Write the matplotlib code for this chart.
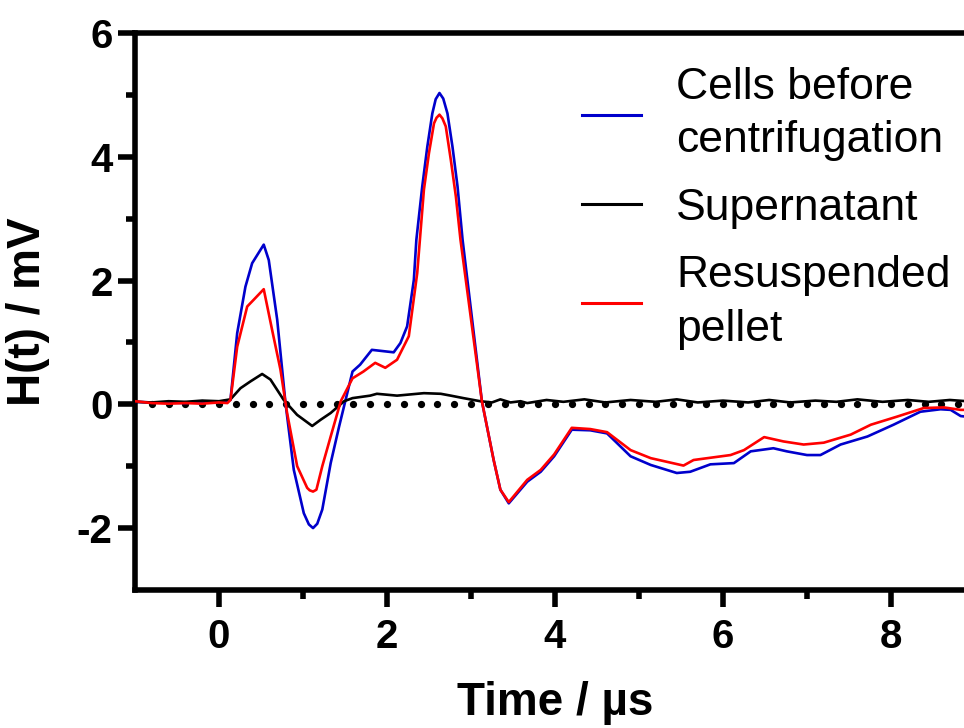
import numpy as np
import matplotlib
matplotlib.use("Agg")
import matplotlib.pyplot as plt

plt.rcParams['font.family'] = ['Liberation Sans', 'DejaVu Sans']
plt.rcParams['axes.unicode_minus'] = False

# Time axis (µs) and signal H(t) (mV) for each sample
t_cells = [-1.0, -0.8, -0.6, -0.4, -0.2, -0.05, 0.06, 0.137, 0.217, 0.315, 0.395, 0.533,
           0.593, 0.693, 0.792, 0.891, 1.01, 1.07, 1.12, 1.17, 1.23, 1.33, 1.43, 1.59, 1.68, 1.82,
           2.08, 2.16, 2.24, 2.32, 2.35, 2.42, 2.48, 2.54, 2.58, 2.625, 2.67, 2.72, 2.78, 2.84, 2.90,
           3.13, 3.27, 3.35, 3.45, 3.67, 3.83, 3.99, 4.20, 4.42, 4.62, 4.90, 5.14, 5.45,
           5.61, 5.85, 6.13, 6.33, 6.60, 6.76, 7.00, 7.16, 7.40, 7.72, 8.03, 8.35, 8.59,
           8.71, 8.83, 8.90]
h_cells = [0.04, 0.03, 0.03, 0.02, 0.05, 0.04, 0.05, 0.07, 1.15, 1.90, 2.28, 2.58,
           2.33, 1.37, 0.02, -1.06, -1.76, -1.94, -2.00, -1.93, -1.70, -0.95, -0.36, 0.53, 0.64, 0.88,
           0.84, 0.99, 1.26, 2.01, 2.66, 3.52, 4.16, 4.70, 4.93, 5.03, 4.94, 4.70, 4.16, 3.52, 2.66,
           0.05, -0.90, -1.38, -1.60, -1.25, -1.09, -0.84, -0.41, -0.42, -0.47, -0.84, -0.98, -1.11,
           -1.09, -0.97, -0.95, -0.76, -0.71, -0.76, -0.82, -0.82, -0.65, -0.52, -0.33, -0.12, -0.08,
           -0.09, -0.19, -0.20]

t_super = [-1.0, -0.8, -0.6, -0.4, -0.2, 0.0, 0.137, 0.256, 0.375, 0.514, 0.613, 0.771,
           0.93, 1.11, 1.21, 1.33, 1.49, 1.59, 1.80, 1.88, 2.12, 2.44, 2.64, 2.76, 2.91,
           3.11, 3.25, 3.35, 3.47, 3.59, 3.67, 3.9, 4.1, 4.35, 4.6, 4.9, 5.2, 5.45, 5.7,
           6.0, 6.3, 6.55, 6.8, 7.1, 7.35, 7.6, 7.9, 8.2, 8.45, 8.7, 8.90]
h_super = [0.04, 0.03, 0.05, 0.04, 0.06, 0.05, 0.08, 0.26, 0.37, 0.49, 0.40, 0.07,
           -0.17, -0.35, -0.25, -0.14, 0.05, 0.10, 0.14, 0.17, 0.14, 0.18, 0.17, 0.14, 0.10,
           0.05, 0.03, 0.08, 0.03, 0.05, 0.02, 0.07, 0.04, 0.08, 0.03, 0.07, 0.04, 0.08, 0.03,
           0.06, 0.03, 0.07, 0.03, 0.06, 0.04, 0.08, 0.04, 0.07, 0.04, 0.07, 0.05]

t_pellet = [-1.0, -0.8, -0.6, -0.4, -0.2, 0.0, 0.1, 0.137, 0.217, 0.336, 0.414, 0.533,
            0.633, 0.732, 0.811, 0.931, 1.05, 1.08, 1.12, 1.16, 1.23, 1.33, 1.45, 1.59, 1.72, 1.86,
            1.98, 2.12, 2.26, 2.36, 2.44, 2.50, 2.56, 2.59, 2.625, 2.66, 2.70, 2.76, 2.82, 2.875,
            3.13, 3.27, 3.35, 3.45, 3.67, 3.83, 3.99, 4.20, 4.42, 4.62, 4.90, 5.14, 5.53,
            5.65, 6.09, 6.25, 6.49, 6.72, 6.96, 7.20, 7.52, 7.76, 8.07, 8.39, 8.63, 8.83, 8.90]
h_pellet = [0.05, 0.02, 0.01, 0.02, 0.01, 0.03, 0.02, 0.07, 0.93, 1.58, 1.69, 1.86,
            1.20, 0.56, -0.14, -1.00, -1.35, -1.39, -1.41, -1.38, -1.00, -0.52, 0.05, 0.42, 0.53, 0.67,
            0.59, 0.72, 1.10, 2.12, 3.47, 4.06, 4.54, 4.63, 4.68, 4.62, 4.49, 3.95, 3.36, 2.66,
            0.05, -0.90, -1.38, -1.58, -1.22, -1.06, -0.81, -0.38, -0.40, -0.45, -0.74, -0.87, -0.99,
            -0.90, -0.82, -0.74, -0.53, -0.60, -0.65, -0.62, -0.49, -0.33, -0.20, -0.06, -0.05, -0.09, -0.09]

series_labels = ["Cells before\ncentrifugation", "Supernatant", "Resuspended\npellet"]
series_colors = ["#0000CC", "#000000", "#FF0000"]

x_major = [0, 2, 4, 6, 8]
x_minor = [1, 3, 5, 7]
y_major = [-2, 0, 2, 4, 6]
y_minor = [-1, 1, 3, 5]

# zero baseline, drawn as a row of dots every 0.2 µs
zero_dots_t = np.arange(-0.8, 9.0, 0.2)

fig = plt.figure(figsize=(9.64, 7.28), dpi=100)
ax = fig.add_axes([0.1400, 0.1896, 0.8714, 0.7651])

ax.plot(zero_dots_t, np.zeros_like(zero_dots_t), ls='none', marker='o', ms=4.2,
        color='black', zorder=1)

for t, h, lab, col in zip([t_cells, t_super, t_pellet], [h_cells, h_super, h_pellet],
                          series_labels, series_colors):
    ax.plot(t, h, color=col, lw=1.9, label=lab, zorder=3)

ax.set_xlim(-1, 9)
ax.set_ylim(-3, 6)
ax.set_xticks(x_major)
ax.set_xticks(x_minor, minor=True)
ax.set_yticks(y_major)
ax.set_yticks(y_minor, minor=True)

for side in ['left', 'bottom', 'top', 'right']:
    ax.spines[side].set_linewidth(4.0)
ax.spines['right'].set_visible(False)

ax.tick_params(axis='both', which='major', length=12, width=4, labelsize=29, color='black')
ax.tick_params(axis='both', which='minor', length=6.5, width=4, color='black')
ax.tick_params(axis='x', which='major', pad=8.5)
ax.tick_params(axis='y', which='major', pad=4)
ax.tick_params(top=False, right=False, which='both')
for lbl in ax.get_xticklabels() + ax.get_yticklabels():
    lbl.set_fontweight('bold')

ax.set_xlabel("Time / µs", fontsize=33, fontweight='bold', labelpad=18)
ax.set_ylabel("H(t) / mV", fontsize=33, fontweight='bold', labelpad=19)

leg = ax.legend(loc='upper left', bbox_to_anchor=(581.7 / 964, 1 - 67 / 728),
                bbox_transform=fig.transFigure, frameon=False, fontsize=32,
                handlelength=1.33, handletextpad=0.8, labelspacing=0.6, borderpad=0,
                borderaxespad=0)
for line in leg.get_lines():
    line.set_linewidth(2.2)
for txt in leg.get_texts():
    txt.set_linespacing(1.38)

fig.savefig("out.png", dpi=100)
